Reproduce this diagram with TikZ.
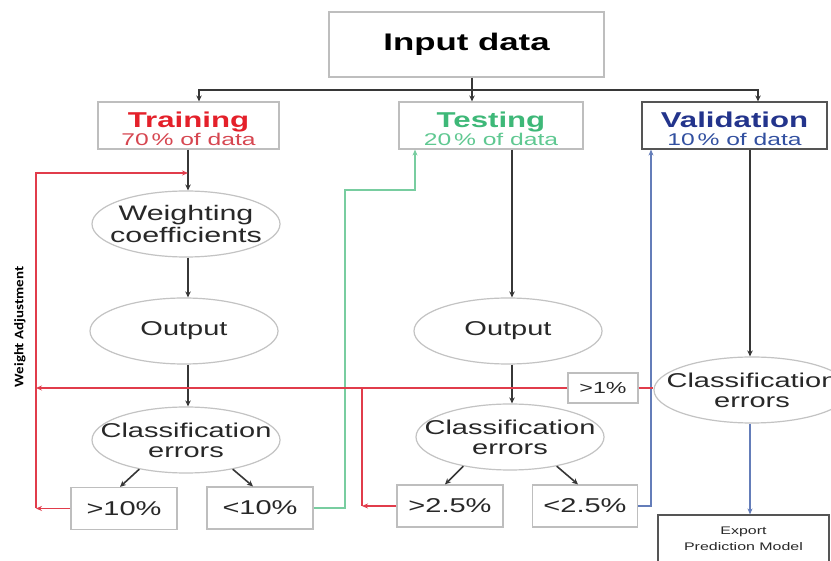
\documentclass[tikz,border=0pt]{standalone}
\usepackage{fontspec}
\setmainfont{Liberation Sans}[FakeStretch=1.45]
\newfontfamily\wafont{Carlito}[FakeStretch=1.15]
\usetikzlibrary{arrows.meta,shapes.geometric}
\definecolor{trA}{RGB}{228,32,42}
\definecolor{trB}{RGB}{214,70,80}
\definecolor{teA}{RGB}{62,184,120}
\definecolor{teB}{RGB}{95,200,145}
\definecolor{vaA}{RGB}{35,52,140}
\definecolor{vaB}{RGB}{50,80,160}
\definecolor{redln}{RGB}{225,60,75}
\definecolor{grnln}{RGB}{120,205,160}
\definecolor{bluln}{RGB}{100,125,185}
\definecolor{boxgray}{RGB}{190,190,190}
\definecolor{ellgray}{RGB}{195,195,195}
\definecolor{txt}{RGB}{40,40,40}
\definecolor{arrgray}{RGB}{55,55,55}
\definecolor{dkgray}{RGB}{85,85,85}
\newcommand\ttlfont{\bfseries\fontsize{21.5}{18}\selectfont}
\newcommand\subfont{\fontsize{17}{18}\selectfont}
\begin{document}
\begin{tikzpicture}[x=1pt,y=-1pt,
  box/.style={draw=boxgray, line width=1.2pt, fill=white, inner sep=0pt, align=center, text=txt},
  hdr/.style={box, minimum height=47pt, text height=40.5pt, font=\fontsize{17}{18.5}\selectfont},
  ell/.style={ellipse, draw=ellgray, line width=1.2pt, fill=white, inner xsep=-40pt, inner ysep=-12pt, align=center, text=txt, minimum width=188pt, minimum height=66pt},
  arr/.style={draw=arrgray, line width=1.6pt, -{Stealth[length=6pt,width=5.5pt]}},
  ln/.style={draw=arrgray, line width=1.6pt},
  rarr/.style={draw=redln, line width=1.3pt, -{Stealth[length=6pt,width=5pt]}},
  rln/.style={draw=redln, line width=1.3pt},
  garr/.style={draw=grnln, line width=1.3pt, -{Stealth[length=6pt,width=5pt]}},
  barr/.style={draw=bluln, line width=1.3pt, -{Stealth[length=6pt,width=5pt]}},
  pct/.style={box, minimum width=106pt, minimum height=42pt, font=\fontsize{20}{22}\selectfont},
  eltxt/.style={font=\fontsize{20}{20}\selectfont}
]
\useasboundingbox (0,0) rectangle (831,561);
\clip (0,0) rectangle (831,561);
\fill[white] (0,0) rectangle (831,561);

% coordinates
\coordinate (j) at (472,90);
\coordinate (lx) at (188,0);
\coordinate (tx) at (512,0);
\coordinate (vx) at (750,0);
\coordinate (g1) at (345,190);
\coordinate (gx) at (415,0);
\coordinate (bx) at (651,0);
\coordinate (rl) at (36,0);
\coordinate (rt) at (36,173);
\coordinate (rv) at (362,388);

% nodes
\node[box, minimum width=275pt, minimum height=65pt, font=\bfseries\fontsize{24}{28}\selectfont, text=black] (inp) at (466.5,44.5) {Input data};
\node[hdr, minimum width=181pt] (tr) at (188.5,125.5) {{\ttlfont\color{trA}Training}\\{\subfont\color{trB}70\,\% of data}};
\node[hdr, minimum width=184pt] (te) at (491,125.5) {{\ttlfont\color{teA}Testing}\\{\subfont\color{teB}20\,\% of data}};
\node[hdr, draw=dkgray, minimum width=185pt] (va) at (734.5,125.5) {{\ttlfont\color{vaA}Validation}\\{\subfont\color{vaB}10\,\% of data}};

\node[ell, font=\fontsize{21}{22}\selectfont] (wc) at (186,224) {Weighting\\coefficients};
\node[ell, font=\fontsize{20}{22}\selectfont] (o1) at (184,331) {Output};
\node[ell, eltxt] (c1) at (186,440) {Classification\\errors};
\node[pct] (g10) at (124,508.5) {>10\%};
\node[pct] (l10) at (260,508) {<10\%};

\node[ell, font=\fontsize{20}{22}\selectfont] (o2) at (508,331) {Output};
\node[ell, eltxt] (c2) at (510,437) {Classification\\errors};
\node[pct] (g25) at (450,506) {>2.5\%};
\node[pct, minimum width=105pt] (l25) at (585,506) {<2.5\%};

\node[box, minimum width=70pt, minimum height=30pt, font=\fontsize{16}{18}\selectfont] (p1) at (603,388) {>1\%};
\node[ell, eltxt, minimum width=196pt] (c3) at (752,390) {Classification\\errors};
\node[box, draw=dkgray, minimum width=171pt, minimum height=48pt, font=\fontsize{11}{16}\selectfont] (ex) at (743.5,539) {Export\\Prediction Model};

\node[rotate=90, font=\wafont\bfseries\fontsize{13}{14}\selectfont, text=black] (wa) at (20,327) {Weight Adjustment};

% input distribution
\draw[ln] (inp.south -| j) -- (j);
\draw[arr] (j) -| ([xshift=10.5pt]tr.north);
\draw[arr] (j) -- (te.north -| j);
\draw[arr] (j) -| ([xshift=23.5pt]va.north);

% training column
\draw[arr] (tr.south -| lx) -- (wc.north -| lx);
\draw[arr] (wc.south -| lx) -- (o1.north -| lx);
\draw[arr] (o1.south -| lx) -- (c1.north -| lx);
\draw[arr] (c1.212) -- ([xshift=-4pt]g10.north);
\draw[arr] (c1.328) -- ([xshift=-7pt]l10.north);

% testing column
\draw[arr] (te.south -| tx) -- (o2.north -| tx);
\draw[arr] (o2.south -| tx) -- (c2.north -| tx);
\draw[arr] (c2.212) -- ([xshift=-5pt]g25.north);
\draw[arr] (c2.328) -- ([xshift=-7pt]l25.north);

% validation column
\draw[arr] (va.south -| vx) -- (c3.north -| vx);
\draw[barr] (c3.south -| vx) -- (ex.north -| vx);

% feedback lines
\draw[garr] (l10.east) -| (g1) -| (te.south -| gx);
\draw[barr] (l25.east) -| (va.south -| bx);
\draw[rarr] (g10.west) -- (g10.west -| rl);
\draw[rarr] (g10.west -| rl) -- (rt) -- (rt -| lx);
\draw[rarr] (p1.west) -- (p1.west -| rl);
\draw[rln] (p1.east) -- (p1.east -| c3.west);
\draw[rln] (rv) -- (rv |- g25.west);
\draw[rarr] (g25.west) -- (g25.west -| rv);
\end{tikzpicture}
\end{document}
